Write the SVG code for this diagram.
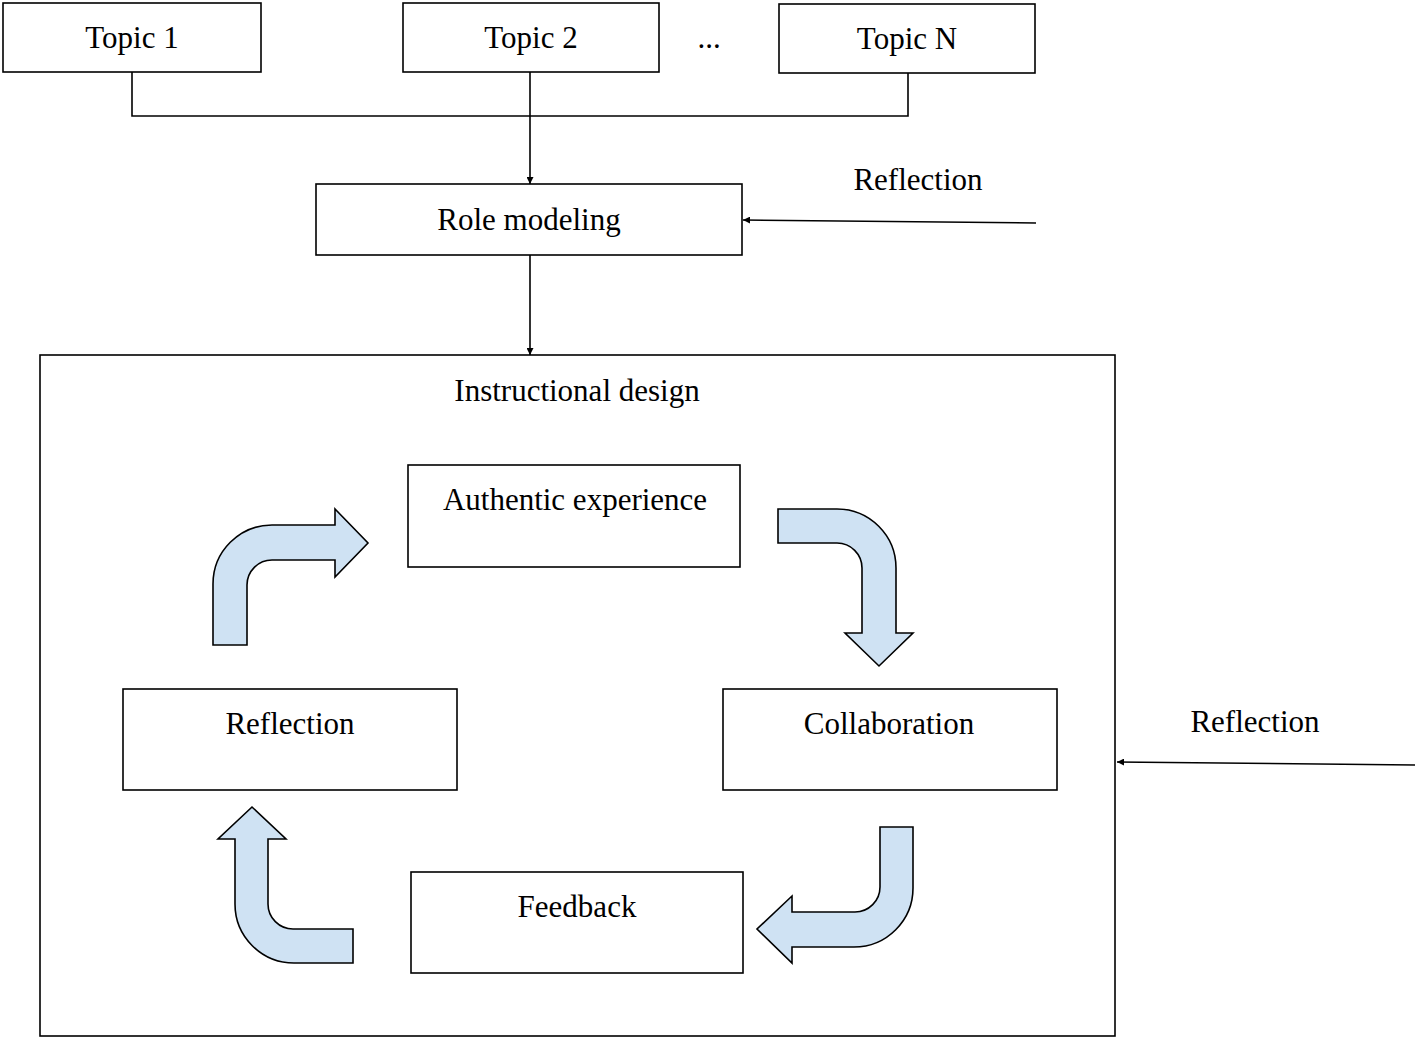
<svg xmlns="http://www.w3.org/2000/svg" width="1418" height="1040" viewBox="0 0 1418 1040">
<style>
.box{fill:#fff;stroke:#000;stroke-width:1.6}
.frame{fill:none;stroke:#000;stroke-width:1.6}
.t{font-family:"Liberation Serif","Times New Roman",serif;font-size:31px;fill:#000;text-anchor:middle}
.ln{fill:none;stroke:#000;stroke-width:1.6}
.ba{fill:#cfe2f3;stroke:#000;stroke-width:1.6;stroke-linejoin:miter}
</style>
<defs>
<marker id="ah" viewBox="0 0 10 10" refX="10" refY="5" markerWidth="7" markerHeight="7" markerUnits="userSpaceOnUse" orient="auto">
<path d="M0,0 L10,5 L0,10 Z" fill="#000"/>
</marker>
</defs>
<rect width="1418" height="1040" fill="#fff"/>
<g id="instructional-design"><rect class="frame" x="40" y="355" width="1075" height="681"/><text class="t" x="577" y="401">Instructional design</text></g>
<g id="connectors">
<path class="ln" d="M132,72 V116 H908 V73"/>
<path class="ln" d="M530,72 V184" marker-end="url(#ah)"/>
<path class="ln" d="M530,255 V355" marker-end="url(#ah)"/>
<path class="ln" d="M1036,223 L743,220" marker-end="url(#ah)"/>
<path class="ln" d="M1415,765 L1117,762" marker-end="url(#ah)"/>
<path class="ba" d="M213,645 L213,584 A59,59 0 0 1 272,525 L335,525 L335,509 L368,543 L335,577 L335,560 L272,560 A25,25 0 0 0 247,585 L247,645 Z"/>
<path class="ba" d="M778,509 L837,509 A59,59 0 0 1 896,568 L896,633 L913,633 L879,666 L845,633 L862,633 L862,568 A25,25 0 0 0 837,543 L778,543 Z"/>
<path class="ba" d="M880,827 L913,827 L913,888 A59,59 0 0 1 854,947 L792,947 L792,963 L757,929 L792,896 L792,912 L855,912 A25,25 0 0 0 880,887 Z"/>
<path class="ba" d="M353,929 L293,929 A25,25 0 0 1 268,904 L268,839 L286,839 L252,807 L218,839 L235,839 L235,904 A59,59 0 0 0 294,963 L353,963 Z"/>
</g>
<g id="topic1"><rect class="box" x="3" y="3" width="258" height="69"/><text class="t" x="132" y="48">Topic 1</text></g>
<g id="topic2"><rect class="box" x="403" y="3" width="256" height="69"/><text class="t" x="531" y="48">Topic 2</text></g>
<g id="ellipsis"><text class="t" x="709" y="48">...</text></g>
<g id="topicN"><rect class="box" x="779" y="4" width="256" height="69"/><text class="t" x="907" y="49">Topic N</text></g>
<g id="reflection-top"><text class="t" x="918" y="190">Reflection</text></g>
<g id="role-modeling"><rect class="box" x="316" y="184" width="426" height="71"/><text class="t" x="529" y="230">Role modeling</text></g>
<g id="authentic-experience"><rect class="box" x="408" y="465" width="332" height="102"/><text class="t" x="575" y="510">Authentic experience</text></g>
<g id="reflection-box"><rect class="box" x="123" y="689" width="334" height="101"/><text class="t" x="290" y="734">Reflection</text></g>
<g id="collaboration"><rect class="box" x="723" y="689" width="334" height="101"/><text class="t" x="889" y="734">Collaboration</text></g>
<g id="feedback"><rect class="box" x="411" y="872" width="332" height="101"/><text class="t" x="577" y="917">Feedback</text></g>
<g id="reflection-right"><text class="t" x="1255" y="732">Reflection</text></g>
</svg>
